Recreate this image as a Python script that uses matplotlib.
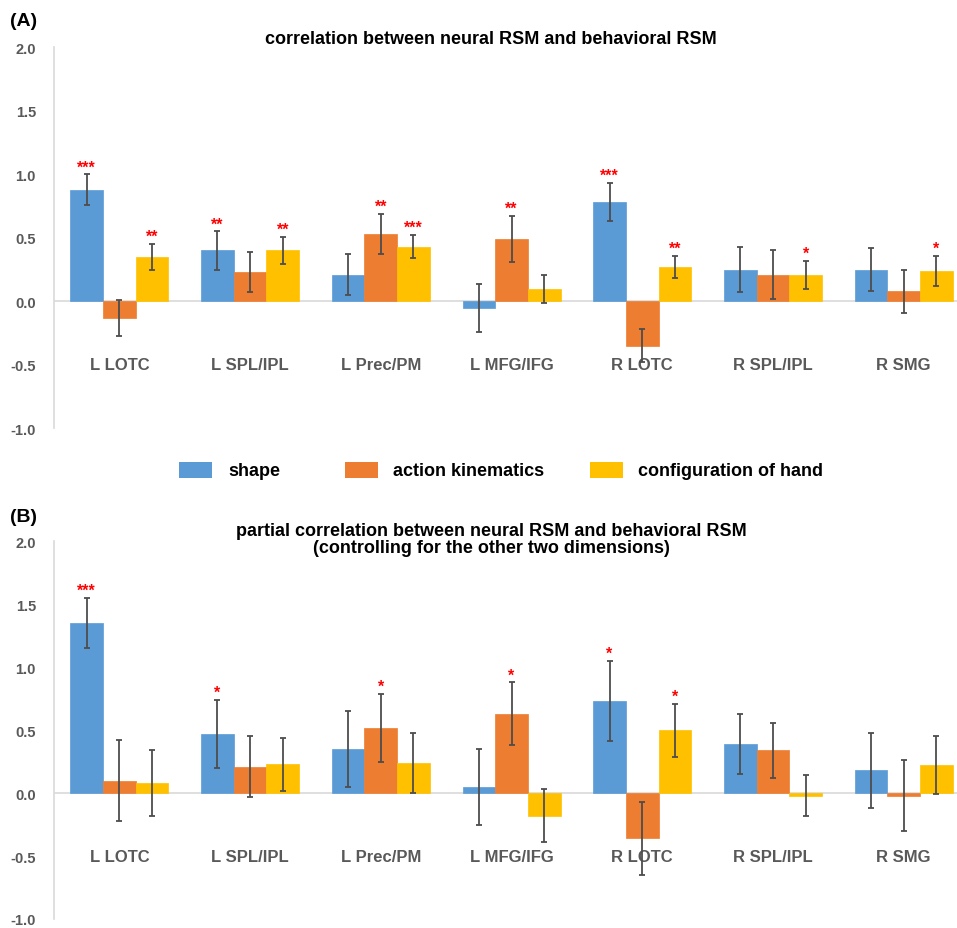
import matplotlib
matplotlib.use("Agg")
import matplotlib.pyplot as plt
from matplotlib.patches import Rectangle
import numpy as np

plt.rcParams['font.family'] = ['Liberation Sans', 'DejaVu Sans']

categories = ["L LOTC", "L SPL/IPL", "L Prec/PM", "L MFG/IFG", "R LOTC", "R SPL/IPL", "R SMG"]
series_names = ["shape", "action kinematics", "configuration of hand"]
colors = ["#5B9BD5", "#ED7D31", "#FFC000"]
yticks = [-1.0, -0.5, 0.0, 0.5, 1.0, 1.5, 2.0]

# Panel A: correlation
a_shape = [0.88, 0.40, 0.21, -0.05, 0.78, 0.25, 0.25]
a_shape_err = [0.12, 0.15, 0.16, 0.19, 0.15, 0.18, 0.17]
a_action = [-0.13, 0.23, 0.53, 0.49, -0.35, 0.21, 0.08]
a_action_err = [0.14, 0.16, 0.16, 0.18, 0.13, 0.19, 0.17]
a_config = [0.35, 0.40, 0.43, 0.10, 0.27, 0.21, 0.24]
a_config_err = [0.10, 0.11, 0.09, 0.11, 0.09, 0.11, 0.12]
a_shape_sig = ["***", "**", "", "", "***", "", ""]
a_action_sig = ["", "", "**", "**", "", "", ""]
a_config_sig = ["**", "**", "***", "", "**", "*", "*"]

# Panel B: partial correlation
b_shape = [1.35, 0.47, 0.35, 0.05, 0.73, 0.39, 0.18]
b_shape_err = [0.20, 0.27, 0.30, 0.30, 0.32, 0.24, 0.30]
b_action = [0.10, 0.21, 0.52, 0.63, -0.36, 0.34, -0.02]
b_action_err = [0.32, 0.24, 0.27, 0.25, 0.29, 0.22, 0.28]
b_config = [0.08, 0.23, 0.24, -0.18, 0.50, -0.02, 0.22]
b_config_err = [0.26, 0.21, 0.24, 0.21, 0.21, 0.16, 0.23]
b_shape_sig = ["***", "*", "", "", "*", "", ""]
b_action_sig = ["", "", "*", "*", "", "", ""]
b_config_sig = ["", "", "", "", "*", "", ""]

W, H = 957, 929
fig = plt.figure(figsize=(W / 100, H / 100), dpi=100)

grey = "#595959"
axis_grey = "#D9D9D9"


def draw_panel(ax, vals, errs, sigs):
    x = np.arange(len(categories))
    width = 0.25
    for j in range(3):
        xs = x + (j - 1) * width
        ax.bar(xs, vals[j], width=width, color=colors[j], zorder=2,
               edgecolor=colors[j], linewidth=0.5)
        ax.errorbar(xs, vals[j], yerr=errs[j], fmt="none", ecolor="#4d4d4d",
                    elinewidth=1.3, capsize=2.5, capthick=1.3, zorder=3)
        for k in range(len(categories)):
            if sigs[j][k]:
                top = vals[j][k] + errs[j][k]
                ax.annotate(sigs[j][k], (xs[k], top), xytext=(0, 0),
                            textcoords="offset points", ha="center", va="bottom",
                            color="red", fontsize=11.5, fontweight="bold")
    ax.axhline(0, color=axis_grey, lw=1.2, zorder=1)
    ax.set_xlim(-0.5, (W - 119.5) / 130.7)
    ax.set_ylim(-1.0, 2.0)
    ax.set_yticks(yticks)
    ax.set_yticklabels([f"{t:.1f}" for t in yticks], color=grey,
                       fontsize=10.5, fontweight="bold")
    ax.tick_params(axis="y", length=0, pad=13)
    ax.set_xticks([])
    for s in ["top", "right", "bottom"]:
        ax.spines[s].set_visible(False)
    ax.spines["left"].set_color(axis_grey)
    ax.spines["left"].set_linewidth(1.2)
    for i, c in enumerate(categories):
        ax.text(i, -0.5, c, ha="center", va="center", color=grey,
                fontsize=12, fontweight="bold", zorder=1)
    ax.patch.set_alpha(0)


axA = fig.add_axes([54 / W, 0.5379, 1 - 54 / W, 0.4101])
draw_panel(axA, [a_shape, a_action, a_config],
           [a_shape_err, a_action_err, a_config_err],
           [a_shape_sig, a_action_sig, a_config_sig])

b_bottom = 9 / H
b_top = (H - 542.3) / H
axB = fig.add_axes([54 / W, b_bottom, 1 - 54 / W, b_top - b_bottom])
draw_panel(axB, [b_shape, b_action, b_config],
           [b_shape_err, b_action_err, b_config_err],
           [b_shape_sig, b_action_sig, b_config_sig])

fig.text(10 / W, 1 - 22 / H, "(A)", fontsize=14, fontweight="bold", va="center", ha="left")
fig.text(10 / W, 1 - 517 / H, "(B)", fontsize=14, fontweight="bold", va="center", ha="left")
fig.text(490.5 / W, 1 - 40 / H, "correlation between neural RSM and behavioral RSM",
         fontsize=13, fontweight="bold", ha="center", va="center")
fig.text(491 / W, 1 - 540 / H,
         "partial correlation between neural RSM and behavioral RSM\n(controlling for the other two dimensions)",
         fontsize=13, fontweight="bold", ha="center", va="center", linespacing=1.0,
         multialignment="center")

# legend
patch_x = [179, 345, 590]
text_x = [228, 393, 638]
for j in range(3):
    fig.add_artist(Rectangle((patch_x[j] / W, (H - 479) / H), 33 / W, 16 / H,
                             transform=fig.transFigure, facecolor=colors[j],
                             edgecolor="none"))
    fig.text(text_x[j] / W, 1 - 471 / H, series_names[j], fontsize=13,
             fontweight="bold", va="center", ha="left")

fig.savefig("out.png", dpi=100)
